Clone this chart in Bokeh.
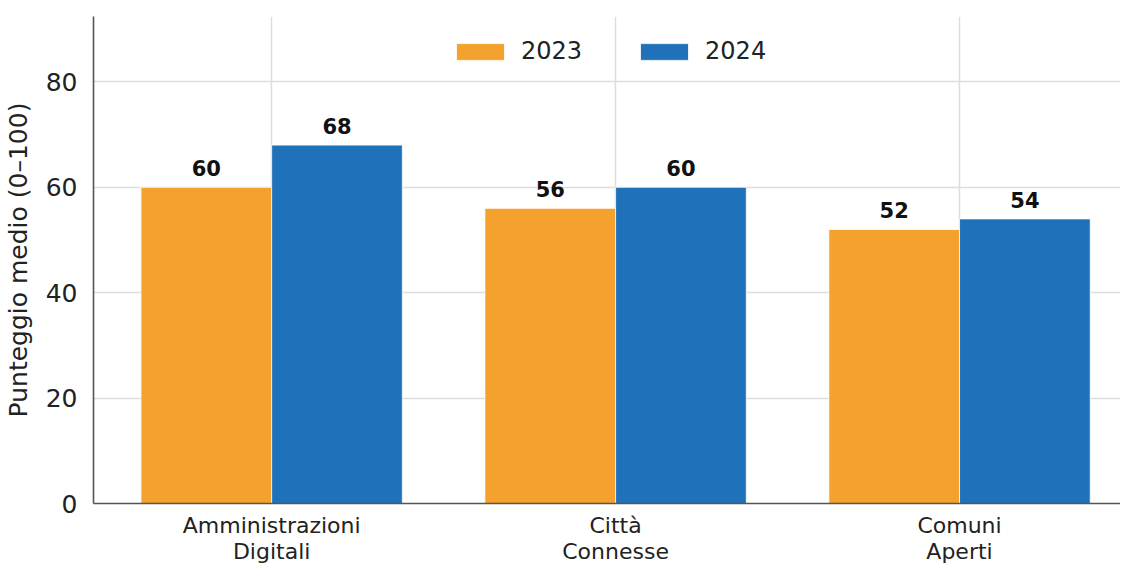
from bokeh.plotting import figure
from bokeh.models import (Range1d, FixedTicker, ColumnDataSource, LabelSet,
                          Legend, LegendItem)
from bokeh.core.properties import value
from bokeh.transform import dodge
from bokeh.embed import file_html
from bokeh.resources import INLINE

categories = ["Amministrazioni\nDigitali", "Città\nConnesse", "Comuni\nAperti"]
values_2023 = [60, 56, 52]
values_2024 = [68, 60, 54]
series_names = ["2023", "2024"]
y_ticks = [0, 20, 40, 60, 80]

FONT = "DejaVu Sans"
ORANGE = "#F4A12D"
BLUE = "#1F72BA"
TEXT = "#222222"

idx = list(range(len(categories)))
src = ColumnDataSource(dict(
    x=idx,
    v23=values_2023,
    v24=values_2024,
    l23=[str(v) for v in values_2023],
    l24=[str(v) for v in values_2024],
))

p = figure(width=1120, height=566, output_backend="svg", toolbar_location=None,
           x_range=Range1d(-0.518, 2.468), y_range=Range1d(0, 92.4),
           min_border_left=88, min_border_right=0, min_border_top=16,
           min_border_bottom=50)
p.outline_line_color = None
p.background_fill_color = "white"
p.border_fill_color = "white"

bw = 0.38
r23 = p.vbar(x=dodge("x", -bw / 2), top="v23", width=bw, source=src,
             fill_color=ORANGE, line_color="white", line_width=0.8)
r24 = p.vbar(x=dodge("x", bw / 2), top="v24", width=bw, source=src,
             fill_color=BLUE, line_color="white", line_width=0.8)

for col, off in (("l23", -bw / 2), ("l24", bw / 2)):
    ycol = "v23" if col == "l23" else "v24"
    lab = LabelSet(x=dodge("x", off), y=ycol, text=col, source=src,
                   text_align="center", text_baseline="alphabetic",
                   y_offset=11, text_font=value(FONT),
                   text_font_size=value("21px"),
                   text_font_style=value("bold"), text_color=value("#111111"))
    p.add_layout(lab)

# axes
p.xaxis.ticker = FixedTicker(ticks=idx)
p.xaxis.major_label_overrides = {i: c for i, c in zip(idx, categories)}
p.yaxis.ticker = FixedTicker(ticks=y_ticks)
for ax in (p.xaxis[0], p.yaxis[0]):
    ax.axis_line_color = "#555555"
    ax.axis_line_width = 1.6
    ax.major_tick_line_color = None
    ax.minor_tick_line_color = None
    ax.major_label_text_font = FONT
    ax.major_label_text_color = TEXT
p.xaxis.major_label_text_font_size = "22px"
p.xaxis.major_label_text_line_height = 1.05
p.xaxis.major_label_standoff = 3
p.yaxis.major_label_text_font_size = "25px"
p.yaxis.major_label_standoff = 10
p.yaxis.axis_label = "Punteggio medio (0–100)"
p.yaxis.axis_label_text_font = FONT
p.yaxis.axis_label_text_font_size = "25px"
p.yaxis.axis_label_text_font_style = "normal"
p.yaxis.axis_label_text_color = TEXT
p.yaxis.axis_label_standoff = 10

p.xgrid.grid_line_color = "#dddddd"
p.xgrid.grid_line_width = 1.5
p.ygrid.grid_line_color = "#dddddd"
p.ygrid.grid_line_width = 1.5

legend = Legend(items=[LegendItem(label=series_names[0], renderers=[r23]),
                       LegendItem(label=series_names[1], renderers=[r24])],
                orientation="horizontal", location=(357, 438),
                glyph_width=60, glyph_height=21, label_standoff=11, spacing=52,
                padding=0, margin=0, border_line_color=None,
                background_fill_alpha=0, label_text_font=FONT,
                label_text_font_size="24px", label_text_color=TEXT)
p.add_layout(legend, "center")

open("out.html", "w").write(file_html(p, INLINE))
